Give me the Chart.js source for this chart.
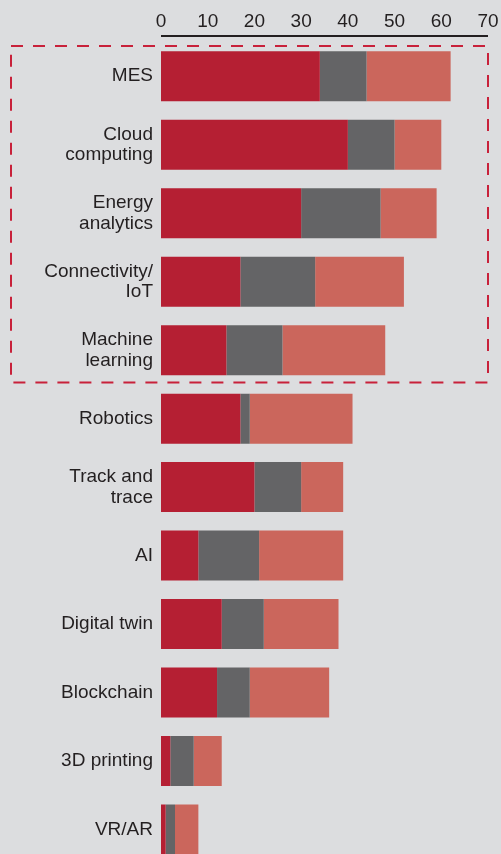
<!DOCTYPE html>
<html lang="en">
<head>
    <meta charset="UTF-8">
    <title>Technology adoption</title>
    <script src="https://cdn.jsdelivr.net/npm/chart.js"></script>
    <style>
        html, body { margin: 0; padding: 0; background: #dcdddf; overflow: hidden; }
        canvas { display: block; }
    </style>
</head>
<body>
    <!-- taller than the window: the bottom bar is cut off like in the original -->
    <canvas id="grafico" width="501" height="882"></canvas>

    <script>
        // data
        const categorias = [
            'MES', ['Cloud', 'computing'], ['Energy', 'analytics'], ['Connectivity/', 'IoT'],
            ['Machine', 'learning'], 'Robotics', ['Track and', 'trace'], 'AI',
            'Digital twin', 'Blockchain', '3D printing', 'VR/AR'
        ];
        const serieVermelha = [34, 40, 30, 17, 14, 17, 20, 8, 13, 12, 2, 1];
        const serieCinza    = [10, 10, 17, 16, 12, 2, 10, 13, 9, 7, 5, 2];
        const serieSalmao   = [18, 10, 12, 19, 22, 22, 9, 18, 16, 17, 6, 5];
        const ticksX = [0, 10, 20, 30, 40, 50, 60, 70];
        const destaque = [0, 4]; // first and last category in the dashed box

        const corTexto = '#231f20';
        const fonte = 'Liberation Sans, Arial, sans-serif';

        // axis line above the bars + dashed highlight box
        const extras = {
            id: 'extras',
            afterDraw(chart) {
                const ctx = chart.ctx;
                const x = chart.scales.x;
                const y = chart.scales.y;
                const passo = y.getPixelForValue(1) - y.getPixelForValue(0);

                ctx.save();
                ctx.strokeStyle = corTexto;
                ctx.lineWidth = 2;
                ctx.beginPath();
                ctx.moveTo(x.left, 36);
                ctx.lineTo(x.right, 36);
                ctx.stroke();

                const topo = y.getPixelForValue(destaque[0]) - passo / 2 + 4;
                const base = y.getPixelForValue(destaque[1]) + passo / 2 - 2;
                ctx.strokeStyle = '#c8213a';
                ctx.setLineDash([12, 10]);
                ctx.strokeRect(11, topo, x.right - 11, base - topo);
                ctx.restore();
            }
        };

        new Chart(document.getElementById('grafico'), {
            type: 'bar',
            data: {
                labels: categorias,
                datasets: [
                    { data: serieVermelha, backgroundColor: '#b51f33' },
                    { data: serieCinza, backgroundColor: '#646466' },
                    { data: serieSalmao, backgroundColor: '#cb665c' }
                ]
            },
            options: {
                indexAxis: 'y',
                responsive: false,
                animation: false,
                events: [],
                layout: { padding: { top: 0, right: 13, bottom: 0, left: 0 } },
                datasets: { bar: { categoryPercentage: 1, barPercentage: 0.73, borderWidth: 0 } },
                plugins: { legend: { display: false }, tooltip: { enabled: false } },
                scales: {
                    x: {
                        position: 'top',
                        stacked: true,
                        min: 0,
                        max: 70,
                        afterBuildTicks: (s) => { s.ticks = ticksX.map(v => ({ value: v })); },
                        afterFit: (s) => { s.height = 42; s.paddingRight = 0; s.paddingLeft = 0; },
                        grid: { display: false, drawTicks: false },
                        border: { display: false },
                        ticks: { color: corTexto, font: { family: fonte, size: 19 }, padding: 9, maxRotation: 0 }
                    },
                    y: {
                        stacked: true,
                        afterFit: (s) => { s.width = 161; },
                        grid: { display: false, drawTicks: false },
                        border: { display: false },
                        ticks: { color: corTexto, font: { family: fonte, size: 19, lineHeight: 1.08 }, padding: 8 }
                    }
                }
            },
            plugins: [extras]
        });
    </script>
</body>
</html>
